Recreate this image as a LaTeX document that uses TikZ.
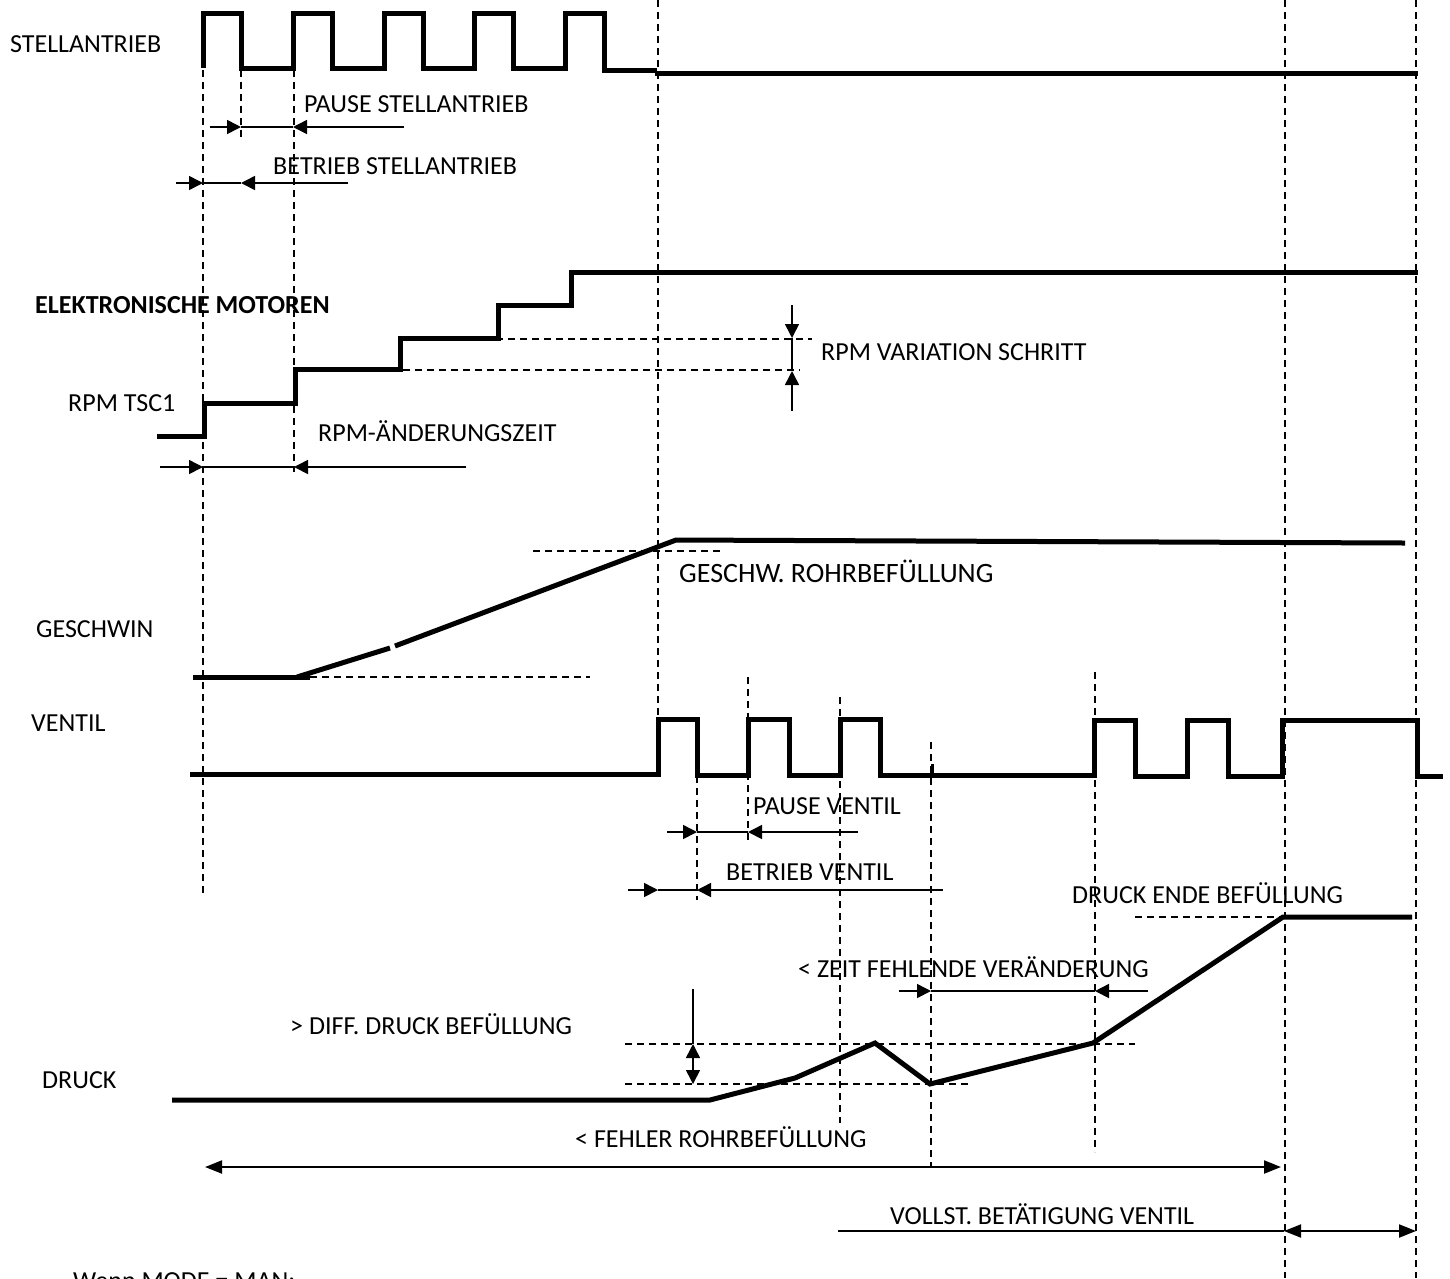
\documentclass[tikz,border=0pt]{standalone}
\usepackage{fontspec}
\setmainfont{Carlito}
\usetikzlibrary{arrows.meta}
\begin{document}
\begin{tikzpicture}[x=1pt,y=-1pt,
  sig/.style={line width=5pt, line join=miter, line cap=butt},
  guide/.style={line width=1.3pt, dash pattern=on 7pt off 5pt},
  dim/.style={line width=1.6pt},
  tip/.style={-{Triangle[length=14pt,width=14pt]}, line width=1.6pt},
  dtip/.style={{Triangle[length=14pt,width=14pt]}-{Triangle[length=14pt,width=14pt]}, line width=1.6pt},
  ltip/.style={{Triangle[length=17pt,width=13pt]}-{Triangle[length=17pt,width=13pt]}, line width=2pt},
  lbl/.style={anchor=base west, inner sep=0pt, font=\fontsize{26}{30}\selectfont},
]
\useasboundingbox (0,0) rectangle (1450,1278);
\fill[white] (0,0) rectangle (1450,1278);

% ---------- guides (dashed) ----------
\draw[guide] (203,70) -- (203,895);
\draw[guide] (241,70) -- (241,140);
\draw[guide] (294,70) -- (294,472);
\draw[guide] (658,0) -- (658,718);
\draw[guide] (1285,0) -- (1285,1278);
\draw[guide] (1416,0) -- (1416,1278);
\draw[guide] (697,776) -- (697,900);
\draw[guide] (748,677) -- (748,840);
\draw[guide] (840,697) -- (840,1123);
\draw[guide] (931,742) -- (931,1167);
\draw[guide] (1095,672) -- (1095,1152);
\draw[guide] (400,339) -- (812,339);
\draw[guide] (295,370) -- (800,370);
\draw[guide] (310,677) -- (590,677);
\draw[guide] (533,551) -- (722,551);
\draw[guide] (625,1044) -- (1135,1044);
\draw[guide] (625,1084) -- (970,1084);
\draw[guide] (1135,917) -- (1280,917);

% ---------- signals ----------
\draw[sig] (203,68) -- (203,13) -- (241,13) -- (241,68) -- (293,68) -- (293,13)
  -- (332,13) -- (332,68) -- (384,68) -- (384,13) -- (423,13) -- (423,68)
  -- (474,68) -- (474,13) -- (513,13) -- (513,68) -- (565,68) -- (565,13)
  -- (604,13) -- (604,70) -- (657,70);
\draw[sig] (655,73) -- (1418,73);

\draw[sig] (157,436) -- (204,436) -- (204,403) -- (295,403) -- (295,369)
  -- (400,369) -- (400,338) -- (498,338) -- (498,305) -- (571,305) -- (571,272) -- (1418,272);

\draw[sig] (193,677) -- (310,677);
\draw[sig] (297,677) -- (390,648);
\draw[sig] (395,646) -- (676,540) -- (1405,543);

\draw[sig] (190,774) -- (658,774) -- (658,719) -- (697,719) -- (697,775) -- (748,775)
  -- (748,719) -- (789,719) -- (789,775) -- (840,775) -- (840,719) -- (880,719)
  -- (880,775) -- (1094,775) -- (1094,720) -- (1135,720) -- (1135,776) -- (1187,776)
  -- (1187,720) -- (1228,720) -- (1228,776) -- (1282,776) -- (1282,720) -- (1417,720)
  -- (1417,776) -- (1443,776);
\draw[line width=3pt] (932,777) -- (932,764);

\draw[sig] (172,1100) -- (710,1100) -- (795,1078) -- (875,1043) -- (930,1084)
  -- (1093,1043) -- (1283,917) -- (1412,917);

% ---------- dimension arrows ----------
\draw[tip] (210,127) -- (241,127);
\draw[dim] (241,127) -- (293,127);
\draw[tip] (404,127) -- (293,127);

\draw[tip] (176,183) -- (203,183);
\draw[dim] (203,183) -- (241,183);
\draw[tip] (348,183) -- (241,183);

\draw[tip] (160,467) -- (203,467);
\draw[dim] (203,467) -- (294,467);
\draw[tip] (466,467) -- (294,467);

\draw[tip] (792,305) -- (792,338);
\draw[dim] (792,338) -- (792,371);
\draw[tip] (792,411) -- (792,371);

\draw[tip] (667,832) -- (697,832);
\draw[dim] (697,832) -- (748,832);
\draw[tip] (858,832) -- (748,832);

\draw[tip] (628,890) -- (658,890);
\draw[dim] (658,890) -- (697,890);
\draw[tip] (943,890) -- (697,890);

\draw[dim] (693,989) -- (693,1044);
\draw[dtip] (693,1044) -- (693,1084);

\draw[tip] (899,991) -- (931,991);
\draw[dim] (931,991) -- (1095,991);
\draw[tip] (1148,991) -- (1095,991);

\draw[ltip] (205,1167) -- (1281,1167);

\draw[dim] (838,1231) -- (1284,1231);
\draw[ltip] (1284,1231) -- (1416,1231);

% ---------- labels ----------
\node[lbl] (tstell) at (10,52) {STELLANTRIEB};
\node[lbl] (tpausest) at (304,112) {PAUSE STELLANTRIEB};
\node[lbl] (tbetrst) at (273,174) {BETRIEB STELLANTRIEB};
\node[lbl, font=\fontsize{26}{30}\selectfont\bfseries] (tmot) at (35,313) {ELEKTRONISCHE MOTOREN};
\node[lbl] (trpm) at (68,411) {RPM TSC1};
\node[lbl] (trpmz) at (318,441) {RPM-ÄNDERUNGSZEIT};
\node[lbl] (trpmv) at (821,360) {RPM VARIATION SCHRITT};
\node[lbl, font=\fontsize{28}{32}\selectfont] (tgr) at (679,582) {GESCHW. ROHRBEFÜLLUNG};
\node[lbl] (tgesch) at (36,637) {GESCHWIN};
\node[lbl] (tventil) at (31,731) {VENTIL};
\node[lbl] (tpausev) at (753,814) {PAUSE VENTIL};
\node[lbl] (tbetrv) at (726,880) {BETRIEB VENTIL};
\node[lbl] (tdende) at (1072,903) {DRUCK ENDE BEFÜLLUNG};
\node[lbl] (tzeit) at (798,977) {< ZEIT FEHLENDE VERÄNDERUNG};
\node[lbl] (tdiff) at (290,1034) {> DIFF. DRUCK BEFÜLLUNG};
\node[lbl] (tdruck) at (42,1088) {DRUCK};
\node[lbl] (tfehler) at (575,1147) {< FEHLER ROHRBEFÜLLUNG};
\node[lbl] (tvollst) at (890,1224) {VOLLST. BETÄTIGUNG VENTIL};
\node[lbl] (twenn) at (73,1289) {Wenn MODE = MAN:};
\end{tikzpicture}
\end{document}
